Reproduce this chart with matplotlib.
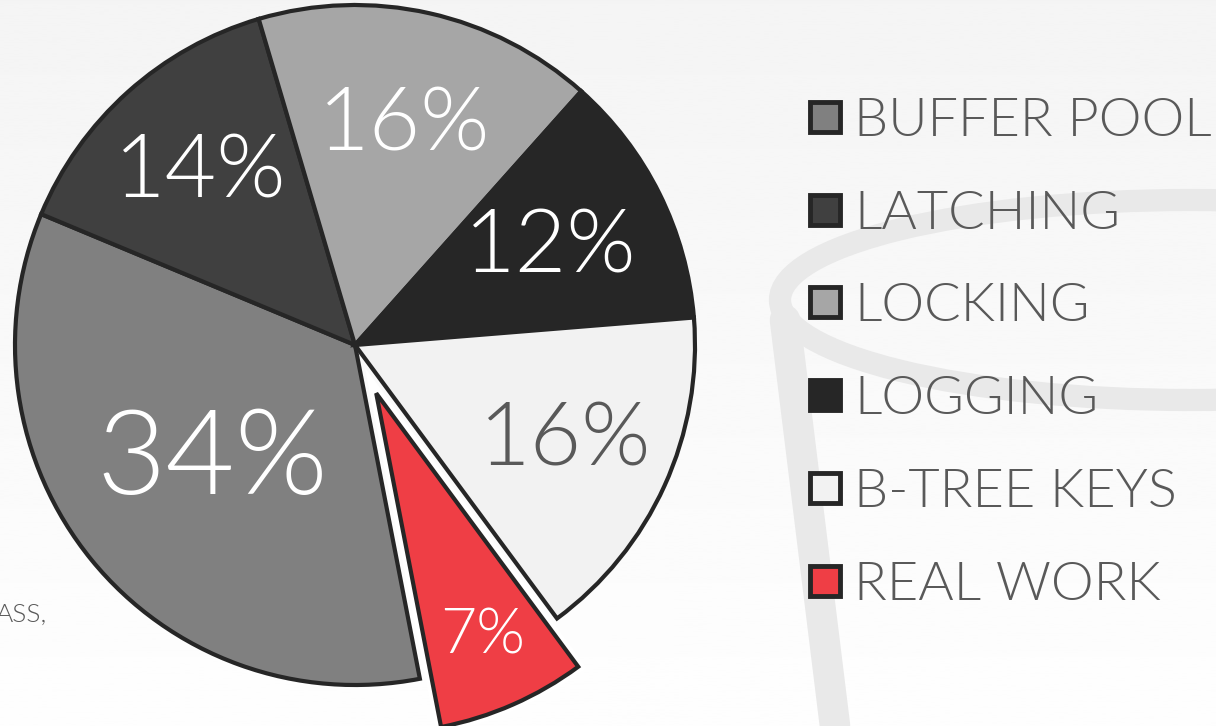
import numpy as np
import matplotlib
matplotlib.use('Agg')
import matplotlib.pyplot as plt
import matplotlib.patheffects as pe
from matplotlib.patches import Rectangle, Ellipse

# data
labels = ['BUFFER POOL', 'LATCHING', 'LOCKING', 'LOGGING', 'B-TREE KEYS', 'REAL WORK']
shares = [34, 14, 16, 12, 16, 7]
pct_text = ['34%', '14%', '16%', '12%', '16%', '7%']

colors = ['#808080', '#404040', '#a6a6a6', '#262626', '#f2f2f2', '#ef3e45']
text_colors = ['white', 'white', 'white', 'white', '#595959', 'white']
label_sizes = [86, 64, 64, 64, 64, 45]
label_dist = [0.54, 0.68, 0.66, 0.64, 0.68, 0.78]
explode = [0, 0, 0, 0, 0, 0.155]

W, H = 1216, 726
fig = plt.figure(figsize=(W / 100, H / 100), dpi=100)

# soft background gradient with a faint watermark
bg = fig.add_axes([0, 0, 1, 1], zorder=-10)
grad = np.linspace(0.996, 0.957, 256).reshape(-1, 1)
bg.imshow(grad, cmap='gray', vmin=0, vmax=1, aspect='auto',
          extent=[0, W, H, 0], origin='lower')
bg.add_patch(Ellipse((1190, 300), 820, 200, fill=False, edgecolor='#e9e9e9', linewidth=16))
bg.plot([785, 835], [320, 726], color='#e9e9e9', linewidth=22, solid_capstyle='round')
bg.set_xlim(0, W)
bg.set_ylim(H, 0)
bg.axis('off')

# pie axes: center (355, 345) px, radius 340 px
cx, cy, R = 355, 345, 340
span = 1.2 * R
ax = fig.add_axes([(cx - span) / W, (H - cy - span) / H, 2 * span / W, 2 * span / H])
ax.set_facecolor('none')

wedges, _ = ax.pie(shares, colors=colors, startangle=281, counterclock=False,
                   explode=explode, radius=1.0,
                   wedgeprops=dict(edgecolor='#262626', linewidth=3.0,
                                   joinstyle='miter'))
# white halo around the exploded slice
wedges[-1].set_path_effects([pe.Stroke(linewidth=9, foreground='white'), pe.Normal()])
wedges[-1].set_zorder(5)

for w, txt, col, fs, d in zip(wedges, pct_text, text_colors, label_sizes, label_dist):
    ang = np.deg2rad((w.theta1 + w.theta2) / 2)
    x0, y0 = w.center
    ax.text(x0 + d * np.cos(ang), y0 + d * np.sin(ang), txt, color=col,
            fontsize=fs, fontfamily='Lato', fontweight=300,
            ha='center', va='center', zorder=10)

ax.set_xlim(-1.2, 1.2)
ax.set_ylim(-1.2, 1.2)
ax.set_aspect('equal')
ax.axis('off')

# legend drawn by hand
lx, ly0, step, box = 810, 117, 92.7, 30
for i, (lab, col) in enumerate(zip(labels, colors)):
    yc = ly0 + i * step
    fig.patches.append(Rectangle((lx / W, (H - yc - box / 2) / H), box / W, box / H,
                                 transform=fig.transFigure, facecolor=col,
                                 edgecolor='#262626', linewidth=3.5))
    fig.text((lx + box + 14) / W, (H - yc) / H, lab, color='#595959',
             fontsize=39, fontfamily='Lato', fontweight=300,
             ha='left', va='center_baseline')

fig.text(47 / W, (H - 615) / H, 'ASS,', color='#595959', fontsize=19,
         fontfamily='Lato', fontweight=300, ha='right', va='center')

fig.savefig('out.png', dpi=100)
